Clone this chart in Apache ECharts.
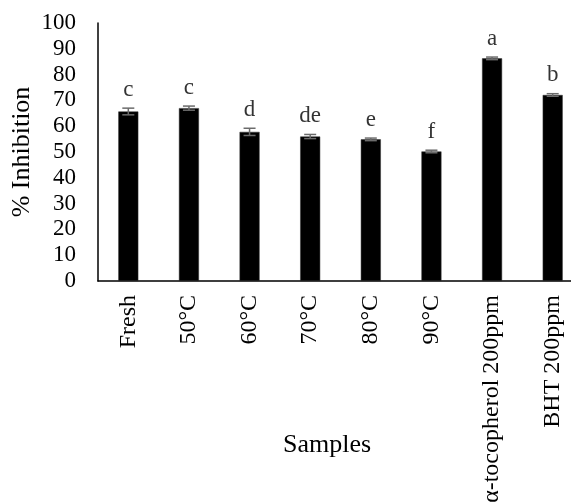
<!DOCTYPE html>
<html>
<head>
<meta charset="utf-8">
<script src="https://cdn.jsdelivr.net/npm/echarts@6/dist/echarts.min.js"></script>
<style>
html,body{margin:0;padding:0;background:#fff;}
#chart{width:571px;height:502px;}
</style>
</head>
<body>
<div id="chart"></div>
<script>
var categories = ['Fresh', '50°C', '60°C', '70°C', '80°C', '90°C', 'α-tocopherol 200ppm', 'BHT 200ppm'];
var inhibition = [65.7, 67.0, 57.8, 56.0, 54.9, 50.2, 86.3, 72.1];
var errors = [1.3, 0.8, 1.4, 0.8, 0.5, 0.5, 0.5, 0.5];
var letters = ['c', 'c', 'd', 'de', 'e', 'f', 'a', 'b'];
var yTicks = [0, 10, 20, 30, 40, 50, 60, 70, 80, 90, 100];

var FONT = 'Liberation Serif';
var chart = echarts.init(document.getElementById('chart'), null, {renderer: 'canvas'});

var errData = inhibition.map(function (v, i) { return [i, v - errors[i], v + errors[i]]; });
var letterData = inhibition.map(function (v, i) { return [i, v + errors[i]]; });

var option = {
  backgroundColor: '#fff',
  animation: false,
  grid: {left: 98, top: 23, width: 485, bottom: 221, containLabel: false, outerBoundsMode: 'none'},
  xAxis: {
    type: 'category',
    data: categories,
    name: 'Samples',
    nameLocation: 'middle',
    nameGap: 151,
    nameMoveOverlap: false,
    nameTextStyle: {fontFamily: FONT, fontSize: 26, color: '#000', padding: [0, 27, 0, 0]},
    axisLine: {lineStyle: {color: '#000', width: 1.5}},
    axisTick: {show: false},
    axisLabel: {interval: 0, rotate: 90, margin: 14, fontFamily: FONT, fontSize: 24, color: '#000'}
  },
  yAxis: {
    type: 'value',
    min: yTicks[0],
    max: yTicks[yTicks.length - 1],
    interval: 10,
    name: '% Inhibition',
    nameLocation: 'middle',
    nameGap: 63,
    nameMoveOverlap: false,
    nameTextStyle: {fontFamily: FONT, fontSize: 26, color: '#000'},
    axisLine: {show: true, lineStyle: {color: '#000', width: 1.5}},
    axisTick: {show: false},
    splitLine: {show: false},
    axisLabel: {margin: 22, fontFamily: FONT, fontSize: 23, color: '#000'}
  },
  series: [
    {
      type: 'bar',
      data: inhibition,
      barWidth: 20,
      itemStyle: {color: '#000', borderColor: '#333', borderWidth: 0.5}
    },
    {
      type: 'custom',
      data: errData,
      z: 10,
      renderItem: function (params, api) {
        var x = api.value(0);
        var lo = api.coord([x, api.value(1)]);
        var hi = api.coord([x, api.value(2)]);
        var hw = 6;
        var st = {stroke: '#6b6b6b', lineWidth: 1.5};
        return {
          type: 'group',
          children: [
            {type: 'line', shape: {x1: lo[0], y1: lo[1], x2: hi[0], y2: hi[1]}, style: st},
            {type: 'line', shape: {x1: lo[0] - hw, y1: lo[1], x2: lo[0] + hw, y2: lo[1]}, style: st},
            {type: 'line', shape: {x1: hi[0] - hw, y1: hi[1], x2: hi[0] + hw, y2: hi[1]}, style: st}
          ]
        };
      }
    },
    {
      type: 'scatter',
      data: letterData,
      symbolSize: 0,
      silent: true,
      label: {
        show: true,
        position: 'top',
        distance: 7,
        fontFamily: FONT,
        fontSize: 23,
        color: '#000',
        formatter: function (p) { return letters[p.dataIndex]; }
      }
    }
  ]
};
chart.setOption(option);
</script>
</body>
</html>
